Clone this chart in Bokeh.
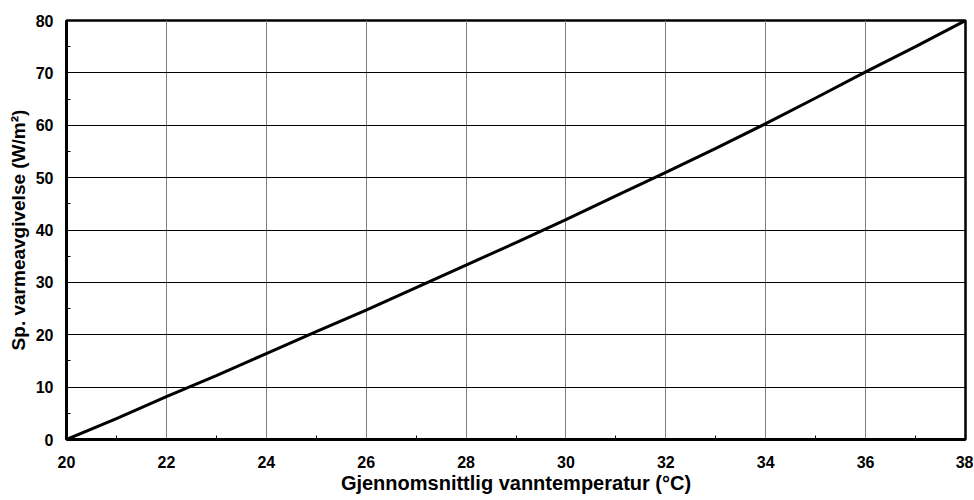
from bokeh.plotting import figure
from bokeh.models import FixedTicker, Range1d
from bokeh.embed import file_html
from bokeh.resources import INLINE

# Data
temperature = [20, 21, 22, 23, 24, 25, 26, 27, 28, 29, 30, 31, 32, 33, 34, 35, 36, 37, 38]
heat_output = [0.0, 4.0, 8.2, 12.2, 16.4, 20.6, 24.7, 29.0, 33.3, 37.6, 42.0, 46.5, 51.0, 55.6, 60.3, 65.2, 70.2, 75.0, 80.0]

x_ticks = [20, 22, 24, 26, 28, 30, 32, 34, 36, 38]
x_minor = [21, 23, 25, 27, 29, 31, 33, 35, 37]
y_ticks = [0, 10, 20, 30, 40, 50, 60, 70, 80]
y_minor = [5, 15, 25, 35, 45, 55, 65, 75]

FONT = "Liberation Sans"

p = figure(width=973, height=496, output_backend="svg", toolbar_location=None,
           x_range=Range1d(20, 38), y_range=Range1d(0, 80),
           min_border_left=66, min_border_right=8, min_border_top=20, min_border_bottom=56)

p.line(temperature, heat_output, line_color="black", line_width=3)

p.xaxis.ticker = FixedTicker(ticks=x_ticks, minor_ticks=x_minor)
p.yaxis.ticker = FixedTicker(ticks=y_ticks, minor_ticks=y_minor)

for ax in (p.xaxis, p.yaxis):
    ax.axis_line_width = 3
    ax.axis_line_color = "black"
    ax.major_tick_in = 0
    ax.major_tick_out = 0
    ax.minor_tick_in = 4
    ax.minor_tick_out = 0
    ax.minor_tick_line_color = "black"
    ax.major_label_text_font = FONT
    ax.major_label_text_font_style = "bold"
    ax.major_label_text_font_size = "16px"
    ax.major_label_text_color = "black"
    ax.axis_label_text_font = FONT
    ax.axis_label_text_font_style = "bold"
    ax.axis_label_text_color = "black"

p.xaxis.axis_label_text_font_size = "20px"
p.yaxis.axis_label_text_font_size = "19px"
p.xaxis.axis_label = "Gjennomsnittlig vanntemperatur (°C)"
p.yaxis.axis_label = "Sp. varmeavgivelse (W/m²)"
p.xaxis.major_label_standoff = 16
p.xaxis.axis_label_standoff = 1
p.yaxis.major_label_standoff = 13
p.yaxis.axis_label_standoff = 4

p.xgrid.grid_line_color = "#808080"
p.xgrid.grid_line_width = 1
p.ygrid.grid_line_color = "black"
p.ygrid.grid_line_width = 1

p.outline_line_color = "black"
p.outline_line_width = 2.5
p.outline_line_alpha = 1.0

open("out.html", "w").write(file_html(p, INLINE))
